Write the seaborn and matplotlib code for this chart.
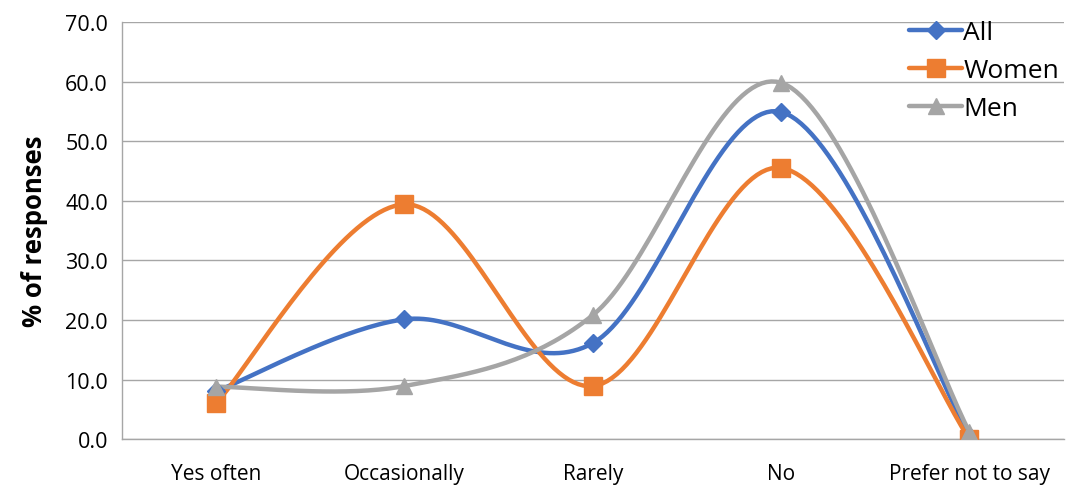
import numpy as np
import pandas as pd
import matplotlib
matplotlib.use("Agg")
import matplotlib.pyplot as plt
import seaborn as sns

categories = ["Yes often", "Occasionally", "Rarely", "No", "Prefer not to say"]
all_vals = [8.0, 20.1, 16.1, 54.9, 0.5]
women_vals = [6.0, 39.4, 8.9, 45.5, 0.0]
men_vals = [8.8, 8.9, 20.8, 59.8, 1.2]

series = {"All": all_vals, "Women": women_vals, "Men": men_vals}
colors = {"All": "#4472C4", "Women": "#ED7D31", "Men": "#A5A5A5"}
markers = {"All": "D", "Women": "s", "Men": "^"}
msizes = {"All": 9, "Women": 13, "Men": 12}

df = pd.DataFrame(
    [(s, i, c, v) for s, vals in series.items() for i, (c, v) in enumerate(zip(categories, vals))],
    columns=["series", "pos", "category", "value"],
)


def smooth(x, y, n=40):
    """Catmull-Rom style cubic Bezier through the points (Excel smoothed line)."""
    x = np.asarray(x, float)
    y = np.asarray(y, float)
    px = np.concatenate([[x[0]], x, [x[-1]]])
    py = np.concatenate([[y[0]], y, [y[-1]]])
    xs, ys = [], []
    t = np.linspace(0, 1, n)
    for i in range(1, len(px) - 2):
        p0 = np.array([px[i], py[i]])
        p3 = np.array([px[i + 1], py[i + 1]])
        c1 = p0 + (np.array([px[i + 1], py[i + 1]]) - np.array([px[i - 1], py[i - 1]])) / 6
        c2 = p3 - (np.array([px[i + 2], py[i + 2]]) - np.array([px[i], py[i]])) / 6
        b = (np.outer((1 - t) ** 3, p0) + np.outer(3 * (1 - t) ** 2 * t, c1)
             + np.outer(3 * (1 - t) * t ** 2, c2) + np.outer(t ** 3, p3))
        xs.append(b[:, 0])
        ys.append(b[:, 1])
    return np.concatenate(xs), np.concatenate(ys)


sns.set_theme(style="white")
plt.rcParams["font.family"] = ["Open Sans", "DejaVu Sans"]
plt.rcParams["text.color"] = "black"
plt.rcParams["xtick.labelcolor"] = "black"
plt.rcParams["ytick.labelcolor"] = "black"
plt.rcParams["axes.labelcolor"] = "black"

fig, ax = plt.subplots(figsize=(10.69, 4.89), dpi=100)
fig.subplots_adjust(left=0.114, right=0.995, top=0.953, bottom=0.10)

for name in series:
    sub = df[df["series"] == name]
    sx, sy = smooth(sub["pos"], sub["value"])
    sns.lineplot(x=sx, y=sy, ax=ax, color=colors[name], lw=3.2, sort=False,
                 estimator=None, zorder=2)
    ax.plot(sub["pos"], sub["value"], linestyle="none", marker=markers[name],
            markersize=msizes[name], color=colors[name], zorder=3)

# legend proxies
handles = [
    plt.Line2D([], [], color=colors[n], lw=3.2, marker=markers[n],
               markersize=msizes[n], solid_capstyle="round")
    for n in series
]
ax.legend(handles, list(series), loc="upper right", bbox_to_anchor=(1.012, 1.043),
          frameon=False, fontsize=19, handlelength=2.0, handletextpad=0.05,
          labelspacing=0.5, borderaxespad=0.2)

ax.set_xlim(-0.5, 4.5)
ax.set_ylim(0, 70)
ax.set_yticks(np.arange(0, 71, 10))
ax.set_yticklabels([f"{v:.1f}" for v in np.arange(0, 71, 10)], fontsize=15.5)
ax.set_xticks(range(len(categories)))
ax.set_xticklabels(categories, fontsize=15)
ax.set_xticks(np.arange(-0.5, 5.0, 1.0), minor=True)
ax.tick_params(axis="x", which="major", length=0, pad=17)
ax.tick_params(axis="x", which="minor", length=6, color="#A6A6A6", width=1, direction="out")
ax.tick_params(axis="y", length=6, color="#A6A6A6", width=1, direction="out", pad=4)
ax.yaxis.grid(True, color="#A6A6A6", lw=1)
ax.set_axisbelow(True)

for side in ["top", "right"]:
    ax.spines[side].set_visible(False)
for side in ["left", "bottom"]:
    ax.spines[side].set_color("#A6A6A6")
    ax.spines[side].set_linewidth(1)

ax.set_ylabel("% of responses", fontsize=18.5, fontweight="bold", labelpad=12)
ax.set_xlabel("")

fig.savefig("out.png", dpi=100)
